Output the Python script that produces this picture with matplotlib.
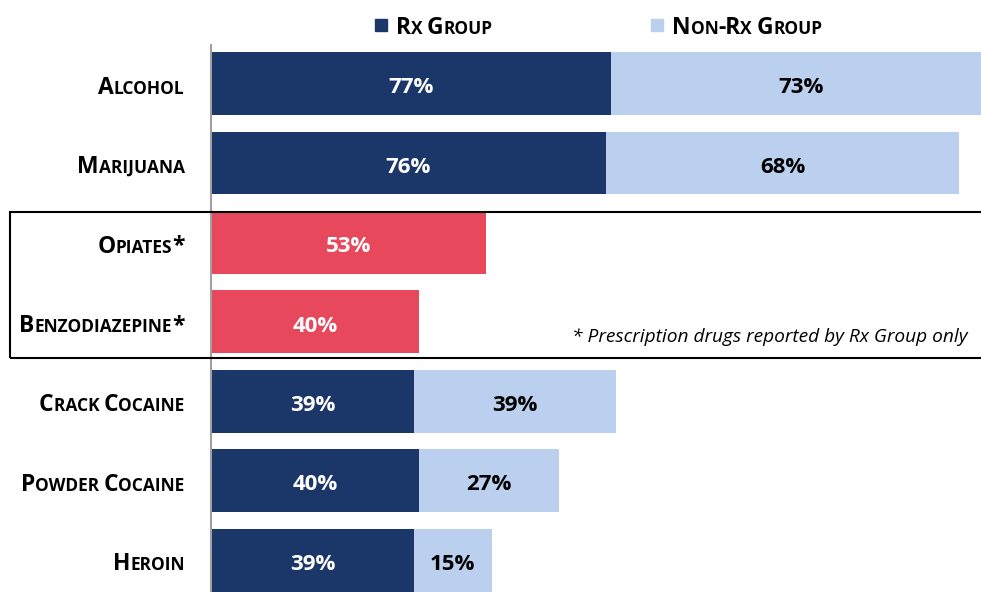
import matplotlib
matplotlib.use("Agg")
import matplotlib.pyplot as plt
from matplotlib.offsetbox import TextArea, HPacker, AnnotationBbox
from matplotlib.patches import Rectangle

categories = ["Alcohol", "Marijuana", "Opiates*", "Benzodiazepine*",
              "Crack Cocaine", "Powder Cocaine", "Heroin"]
rx_values = [77, 76, 53, 40, 39, 40, 39]
nonrx_values = [73, 68, 0, 0, 39, 27, 15]
rx_only = [False, False, True, True, False, False, False]

DARK = "#1B3668"
LIGHT = "#BAD0EE"
RED = "#E8485B"
FONT = "Open Sans"

plt.rcParams['font.family'] = [FONT, 'DejaVu Sans']

fig = plt.figure(figsize=(9.81, 5.92), dpi=100)
ax = fig.add_axes([211/981, 0, 1 - 211/981, 1 - 45/592])


def small_caps(s, big=16.5, small=12.5, color="black"):
    # split into runs: capitals/symbols at full size, lowercase as smaller capitals
    runs = []
    for ch in s:
        is_small = ch.islower() or (ch == " " and runs and runs[-1][1])
        if runs and runs[-1][1] == is_small:
            runs[-1][0] += ch
        else:
            runs.append([ch, is_small])
    boxes = []
    for txt, is_small in runs:
        boxes.append(TextArea(txt.upper(), textprops=dict(
            fontsize=small if is_small else big, fontweight="bold",
            color=color, family=FONT)))
    return HPacker(children=boxes, align="baseline", pad=0, sep=0)


def value_label(x, y, v, color):
    ax.annotate(f"{v}%", (x, y), xytext=(0, -3), textcoords="offset points",
                ha="center", va="center", color=color, fontsize=16,
                fontweight="bold", zorder=3)


ypos = list(range(len(categories)))
for y, cat, rv, nv, red in zip(ypos, categories, rx_values, nonrx_values, rx_only):
    ax.barh(y, rv, height=0.79, color=RED if red else DARK, zorder=2)
    value_label(rv / 2, y, rv, "white")
    if nv:
        ax.barh(y, nv, left=rv, height=0.79, color=LIGHT, zorder=2)
        value_label(rv + nv / 2, y, nv, "black")
    ab = AnnotationBbox(small_caps(cat), (0, y), xybox=(-19, -3),
                        boxcoords="offset points", box_alignment=(1, 0.5),
                        frameon=False, pad=0, annotation_clip=False)
    ax.add_artist(ab)

ax.set_xlim(0, 148.2)
ax.set_ylim(6.4, -0.484)
for sp in ["top", "right", "bottom"]:
    ax.spines[sp].set_visible(False)
ax.spines["left"].set_color("#A0A0A0")
ax.spines["left"].set_linewidth(1.5)
ax.set_xticks([])
ax.set_yticks([])

# footnote
fig.text(968/981, 1 - 337/592, "* Prescription drugs reported by Rx Group only",
         ha="right", va="center", fontsize=13.8, style="italic", color="black")

# box around prescription drugs
rect = Rectangle((10/981, 1 - 358/592), 1.0, 146/592, transform=fig.transFigure,
                 fill=False, edgecolor="black", linewidth=1.5, zorder=5)
fig.patches.append(rect)

# legend
fig.patches.append(Rectangle((375/981, 1 - 31/592), 12/981, 12/592,
                             transform=fig.transFigure, color=DARK))
fig.patches.append(Rectangle((651/981, 1 - 31/592), 12/981, 12/592,
                             transform=fig.transFigure, color=LIGHT))
for x0, label in [(396, "Rx Group"), (672, "Non-Rx Group")]:
    ab = AnnotationBbox(small_caps(label, big=16.5, small=12.5), (x0/981, 1 - 28/592),
                        xycoords=fig.transFigure, box_alignment=(0, 0.5),
                        frameon=False, pad=0, annotation_clip=False)
    fig.add_artist(ab)

fig.savefig("out.png", dpi=100)
